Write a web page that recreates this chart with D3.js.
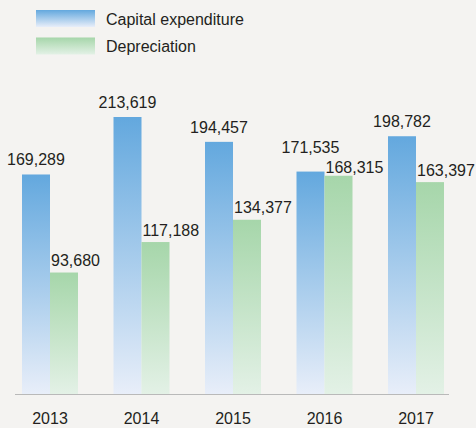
<!DOCTYPE html>
<html><head><meta charset="utf-8">
<script src="https://cdn.jsdelivr.net/npm/d3@7"></script>
<style>
html,body{margin:0;padding:0;background:#f4f3f1;}
svg{display:block;}
text{font-family:"Liberation Sans",Arial,Helvetica,sans-serif;fill:#231f20;}
</style></head>
<body>
<svg id="chart" width="476" height="428"></svg>
<script>
const years = ["2013","2014","2015","2016","2017"];
const capex = [169289, 213619, 194457, 171535, 198782];
const depreciation = [93680, 117188, 134377, 168315, 163397];
const seriesNames = ["Capital expenditure", "Depreciation"];

const W = 476, H = 428;
const svg = d3.select("#chart");
svg.append("rect").attr("width", W).attr("height", H).attr("fill", "#f4f3f1");

const defs = svg.append("defs");
function grad(id, top, bottom){
  const g = defs.append("linearGradient").attr("id", id)
    .attr("x1", 0).attr("y1", 0).attr("x2", 0).attr("y2", 1);
  g.append("stop").attr("offset", "0%").attr("stop-color", top);
  g.append("stop").attr("offset", "100%").attr("stop-color", bottom);
}
grad("gBlue", "#63a8de", "#e8eef9");
grad("gGreen", "#a6d6aa", "#e3f1e6");

const baseY = 394;
const x = d3.scaleBand().domain(years).range([22, 444]).paddingInner(0.388).paddingOuter(0);
const sub = d3.scaleBand().domain([0,1]).range([0, x.bandwidth()]);
const y = d3.scaleLinear().domain([0, 213619]).range([baseY, 117]);

const data = years.map((yr, i) => ({yr, a: capex[i], b: depreciation[i]}));

const g = svg.append("g");
// bars
g.selectAll("rect.cap").data(data).join("rect").attr("class","cap")
  .attr("x", d => x(d.yr) + sub(0)).attr("width", sub.bandwidth())
  .attr("y", d => y(d.a)).attr("height", d => baseY - y(d.a))
  .attr("fill", "url(#gBlue)");
g.selectAll("rect.dep").data(data).join("rect").attr("class","dep")
  .attr("x", d => x(d.yr) + sub(1)).attr("width", sub.bandwidth())
  .attr("y", d => y(d.b)).attr("height", d => baseY - y(d.b))
  .attr("fill", "url(#gGreen)");

const fmt = d3.format(",");
const close = d => Math.abs(y(d.a) - y(d.b)) < 20;
g.selectAll("text.capl").data(data).join("text").attr("class","capl")
  .attr("x", d => x(d.yr) + sub(0) + sub.bandwidth()/2)
  .attr("y", d => y(d.a) - (close(d) ? 19 : 9))
  .attr("text-anchor", "middle").attr("font-size", 16)
  .text(d => fmt(d.a));
g.selectAll("text.depl").data(data).join("text").attr("class","depl")
  .attr("x", d => x(d.yr) + sub(1) + 1)
  .attr("y", d => y(d.b) - (close(d) ? 3 : 6.5))
  .attr("text-anchor", "start").attr("font-size", 16)
  .text(d => fmt(d.b));

// axis
const axis = d3.axisBottom(x).tickSize(0).tickPadding(0);
const ax = svg.append("g").attr("transform", `translate(0,${baseY})`).call(axis);
ax.select(".domain").remove();
ax.selectAll("text").attr("font-size", 16).attr("dy", null).attr("y", 30)
  .style("font-family", '"Liberation Sans",Arial,sans-serif').attr("fill", "#231f20");
svg.append("line").attr("x1", 15).attr("x2", 449).attr("y1", baseY + 0.5).attr("y2", baseY + 0.5)
  .attr("stroke", "#b9b9b9").attr("stroke-width", 1.2);

// legend
const leg = svg.append("g");
const legFills = ["url(#gBlue)", "url(#gGreen)"];
seriesNames.forEach((name, i) => {
  const yy = 10 + i * 27.5;
  leg.append("rect").attr("x", 36).attr("y", yy).attr("width", 59).attr("height", 17).attr("fill", legFills[i]);
  leg.append("text").attr("x", 106).attr("y", yy + 14.5).attr("font-size", 16).text(name);
});
</script>
</body></html>
